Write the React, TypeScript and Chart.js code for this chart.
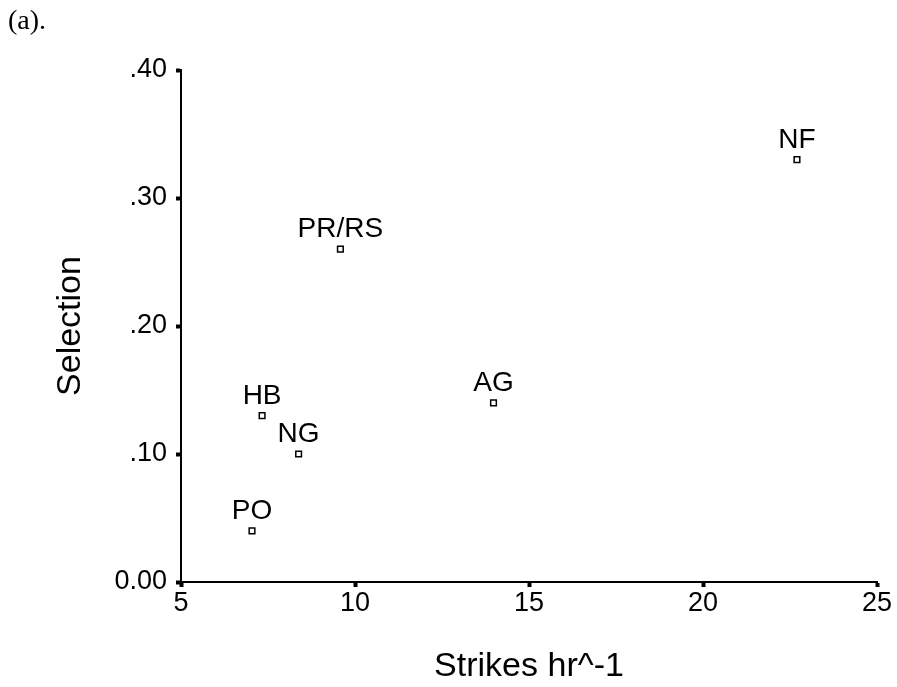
import React, { useEffect, useRef } from "react";
import { Chart, registerables } from "chart.js";

Chart.register(...registerables);

const labels = ["NF", "PR/RS", "AG", "HB", "NG", "PO"];
const strikes = [22.7, 9.58, 13.98, 7.33, 8.38, 7.04];
const selection = [0.33, 0.26, 0.14, 0.13, 0.10, 0.04];
const xTicks = [5, 10, 15, 20, 25];
const yTicks = [0, 0.1, 0.2, 0.3, 0.4];

const FONT = "'Liberation Sans', Arial, sans-serif";

const pointLabelPlugin = {
  id: "pointLabels",
  afterDatasetsDraw(chart: any) {
    const ctx = chart.ctx;
    const meta = chart.getDatasetMeta(0);
    ctx.save();
    ctx.fillStyle = "#000";
    ctx.font = `28px ${FONT}`;
    ctx.textAlign = "center";
    ctx.textBaseline = "alphabetic";
    meta.data.forEach((el: any, i: number) => {
      ctx.fillText(labels[i], el.x, el.y - 12);
    });
    ctx.restore();
  },
};

export default function App() {
  const ref = useRef<HTMLCanvasElement>(null);
  useEffect(() => {
    if (!ref.current) return;
    const chart = new Chart(ref.current, {
      type: "scatter",
      data: {
        datasets: [
          {
            data: strikes.map((x, i) => ({ x, y: selection[i] })),
            pointStyle: "rect",
            pointRadius: 4,
            borderColor: "#000",
            backgroundColor: "#fff",
            borderWidth: 1.5,
          },
        ],
      },
      options: {
        animation: false,
        responsive: false,
        layout: { padding: { left: 0, top: 70, right: 20, bottom: 0 } },
        plugins: { legend: { display: false }, tooltip: { enabled: false } },
        scales: {
          x: {
            type: "linear",
            min: 5,
            max: 25,
            afterFit(scale: any) {
              scale.height = 105;
            },
            afterBuildTicks(scale: any) {
              scale.ticks = xTicks.map((v) => ({ value: v }));
            },
            border: { display: true, color: "#000", width: 2 },
            grid: {
              drawOnChartArea: false,
              drawTicks: true,
              tickLength: 5,
              tickWidth: 4,
              tickColor: "#000",
            },
            ticks: {
              color: "#000",
              padding: 0,
              font: { family: FONT, size: 27 },
              callback: (v: any) => String(v),
            },
            title: {
              display: true,
              text: "Strikes hr^-1",
              color: "#000",
              font: { family: FONT, size: 34 },
              padding: { top: 0, bottom: 0 },
            },
          },
          y: {
            type: "linear",
            min: 0,
            max: 0.4,
            afterFit(scale: any) {
              scale.width = 181;
            },
            afterBuildTicks(scale: any) {
              scale.ticks = yTicks.map((v) => ({ value: v }));
            },
            border: { display: true, color: "#000", width: 2 },
            grid: {
              drawOnChartArea: false,
              drawTicks: true,
              tickLength: 5,
              tickWidth: 4,
              tickColor: "#000",
            },
            ticks: {
              color: "#000",
              padding: 9,
              font: { family: FONT, size: 27 },
              callback: (v: any) => (v === 0 ? "0.00" : Number(v).toFixed(2).replace(/^0/, "")),
            },
            title: {
              display: true,
              text: "Selection",
              color: "#000",
              font: { family: FONT, size: 34 },
              padding: { top: 50, bottom: 0 },
            },
          },
        },
      },
      plugins: [pointLabelPlugin],
    });
    return () => chart.destroy();
  }, []);

  return (
    <div style={{ position: "fixed", left: 0, top: 0, width: 897, height: 687, background: "#fff" }}>
      <canvas ref={ref} width={897} height={687} style={{ position: "absolute", left: 0, top: 0 }} />
      <div
        style={{
          position: "absolute",
          left: 8,
          top: 3,
          fontFamily: "'Liberation Serif', 'Times New Roman', serif",
          fontSize: 28,
          lineHeight: "34px",
          color: "#000",
        }}
      >
        (a).
      </div>
    </div>
  );
}
